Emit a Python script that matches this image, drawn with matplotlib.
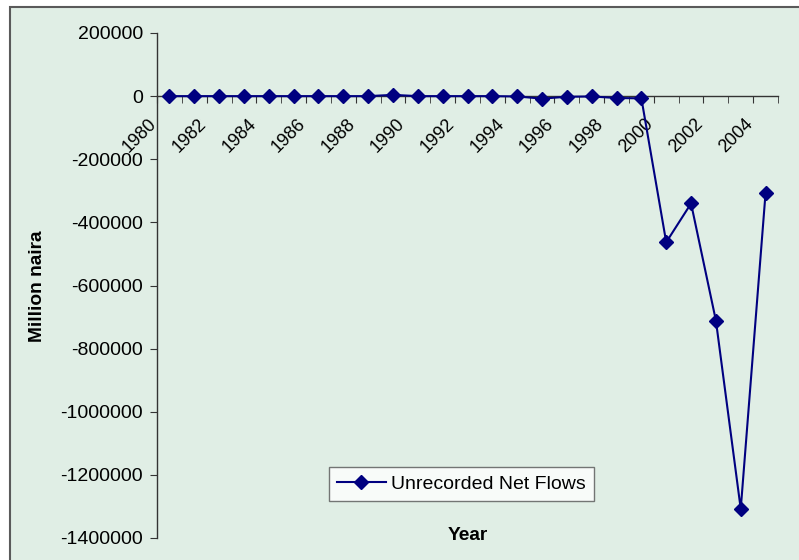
import matplotlib
matplotlib.use("Agg")
import matplotlib.pyplot as plt
import matplotlib.transforms as mtransforms
from matplotlib.patches import Rectangle
from matplotlib.lines import Line2D

years = list(range(1980, 2005))
flows = [0, 0, 0, 0, 0, 0, 0, 0, 0, 4000,
         0, 0, 0, 0, -1000, -8000, -2000, -1000, -6000, -7000,
         -463000, -340000, -711000, -1308000, -306000]
series_name = "Unrecorded Net Flows"
ytick_vals = [200000, 0, -200000, -400000, -600000, -800000,
              -1000000, -1200000, -1400000]

plt.rcParams['font.family'] = ['Liberation Sans', 'DejaVu Sans']

W, H = 799, 560
fig = plt.figure(figsize=(W / 100, H / 100), dpi=100)
fig.patch.set_facecolor('white')

# chart area
fig.patches.append(Rectangle((10 / W, -0.05), 1.1, 1 - 7 / H + 0.05,
                             transform=fig.transFigure, facecolor='#E0EEE5',
                             edgecolor='#5a5a5a', linewidth=1.5, zorder=-10))

ax = fig.add_axes([157 / W, 1 - 538 / H, (778 - 157) / W, (538 - 33) / H])
ax.set_facecolor('none')
ax.set_zorder(1)

idx = list(range(len(years)))
navy = '#000080'
ax.plot(idx, flows, color=navy, lw=1.5, marker='D', markersize=7,
        markerfacecolor=navy, markeredgecolor=navy, zorder=3, clip_on=False)

ax.set_xlim(-0.5, len(years) - 0.5)
ax.set_ylim(-1400000, 200000)
ax.set_yticks(ytick_vals)
ax.set_yticklabels([str(v) for v in ytick_vals], fontsize=14)

for s in ['top', 'right']:
    ax.spines[s].set_visible(False)
ax.spines['bottom'].set_position(('data', 0))
ax.spines['left'].set_color('#333333')
ax.spines['bottom'].set_color('#333333')
ax.spines['left'].set_linewidth(1.0)
ax.spines['bottom'].set_linewidth(1.0)

major_pos = [i - 0.5 for i in idx if i % 2 == 0]
major_lab = [str(years[i]) for i in idx if i % 2 == 0]
ax.set_xticks(major_pos)
ax.set_xticklabels(major_lab, fontsize=13, rotation=45, ha='right',
                   rotation_mode='anchor', va='top')
ax.set_xticks([i - 0.5 for i in range(len(years) + 1)], minor=True)
ax.tick_params(axis='x', which='both', direction='out', length=5,
               color='#333333', pad=6)
ax.tick_params(axis='y', direction='out', length=5, color='#333333', pad=5)

offset = mtransforms.ScaledTranslation(-9 / 100, -4 / 100, fig.dpi_scale_trans)
for lab in ax.get_xticklabels():
    lab.set_transform(lab.get_transform() + offset)

fig.text(38 / W, 1 - 286 / H, 'Million naira', rotation=90, fontsize=13.8,
         fontweight='bold', ha='center', va='center')
fig.text(467.5 / W, 1 - 536 / H, 'Year', fontsize=13.8, fontweight='bold',
         ha='center', va='center')

handle = Line2D([], [], color=navy, lw=1.5, marker='D', markersize=7,
                markerfacecolor=navy, markeredgecolor=navy)
leg = fig.legend([handle], [series_name], loc='center',
                 bbox_to_anchor=(461.5 / W, 1 - 484 / H), fontsize=14,
                 frameon=True, fancybox=False, handlelength=2.5,
                 borderpad=0.42, handletextpad=0.3, borderaxespad=0)
leg.get_frame().set_edgecolor('#555555')
leg.get_frame().set_linewidth(1.0)
leg.get_frame().set_facecolor('white')
leg.set_zorder(5)

fig.savefig('out.png', dpi=100)
